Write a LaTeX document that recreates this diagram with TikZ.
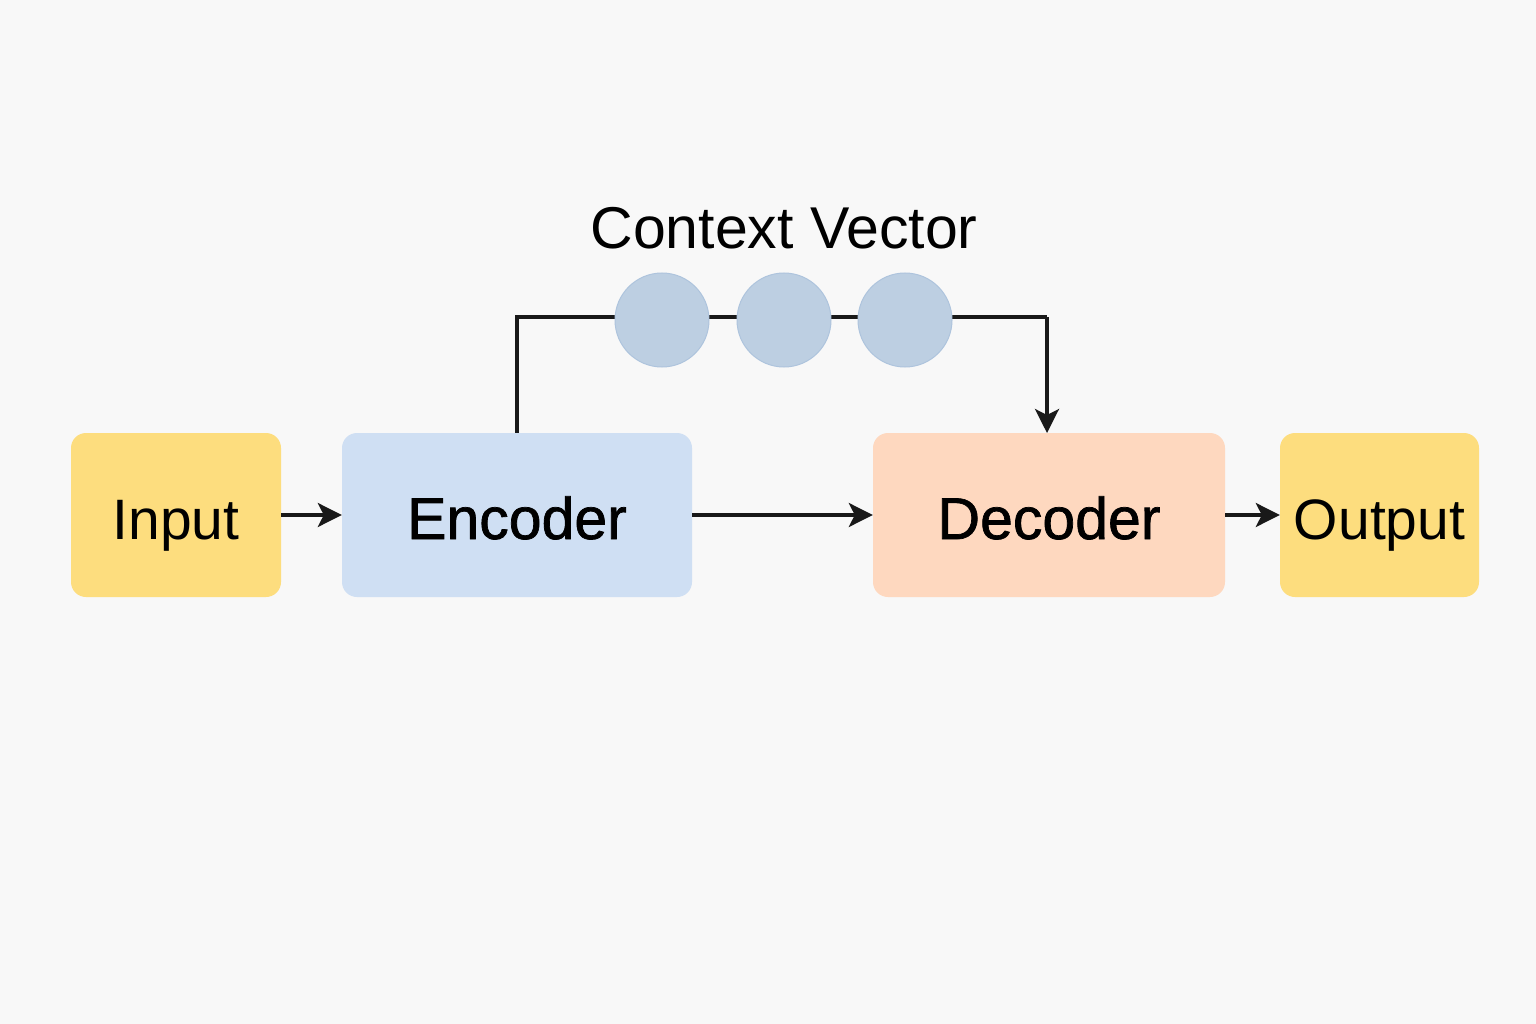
\documentclass[tikz,border=0pt]{standalone}
\usepackage{fontspec}
\setmainfont{Liberation Sans}
\newfontfamily\semib[FakeBold=1.2]{Liberation Sans}
\usetikzlibrary{arrows.meta}
\definecolor{bg}{HTML}{F8F8F8}
\definecolor{yel}{HTML}{FDDD7E}
\definecolor{blu}{HTML}{CFDFF3}
\definecolor{ora}{HTML}{FED8BF}
\definecolor{cir}{HTML}{BDCFE2}
\definecolor{cirb}{HTML}{AEC4DD}
\tikzset{
  box/.style={rounded corners=15pt, draw=none, minimum height=164pt, font=\fontsize{57}{60}\selectfont, text=black, inner sep=0pt, text height=50pt, text depth=2pt},
  bigbox/.style={box, font=\semib\fontsize{59}{60}\selectfont},
  ctx/.style={circle, fill=cir, draw=cirb, line width=1pt, minimum size=94pt, inner sep=0pt},
  conn/.style={line width=3.4pt, draw=black!90, -{Stealth[length=24pt,width=24pt,inset=6pt]}},
  plain/.style={line width=3.4pt, draw=black!90}
}
\begin{document}
\begin{tikzpicture}[x=1pt,y=-1pt]
\fill[bg] (0,0) rectangle (1536,1024);
\useasboundingbox (0,0) rectangle (1536,1024);
\node[box, fill=yel, minimum width=210pt] (in) at (176,515) {Input};
\node[bigbox, fill=blu, minimum width=350pt] (enc) at (517,515) {Encoder};
\node[bigbox, fill=ora, minimum width=352pt] (dec) at (1049,515) {Decoder};
\node[box, fill=yel, minimum width=199pt] (out) at (1379.5,515) {Output};
\coordinate (c1) at (517,317);
\coordinate (c2) at (1047,317);
\coordinate (dtop) at (1047,433);
\draw[plain] (enc.north) -- (c1) -- (c2);
\draw[conn] (c2) -- (dtop);
\node[ctx] (v1) at (662,320) {};
\node[ctx] (v2) at (784,320) {};
\node[ctx] (v3) at (905,320) {};
\node[font=\fontsize{59}{60}\selectfont] (lbl) at (784,228) {Context Vector};
\draw[conn] (in.east) -- (enc.west);
\draw[conn] (enc.east) -- (dec.west);
\draw[conn] (dec.east) -- (out.west);
\end{tikzpicture}
\end{document}
